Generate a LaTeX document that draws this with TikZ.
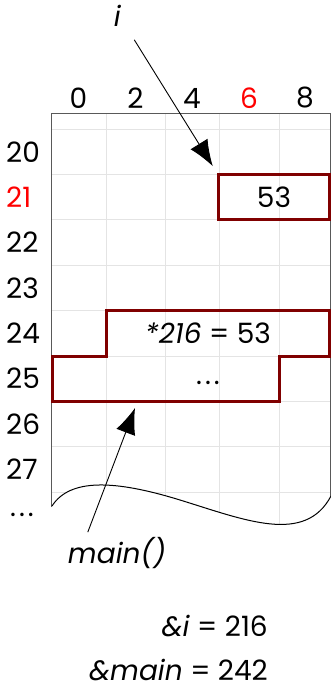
\documentclass[tikz,border=0pt]{standalone}
\usepackage{fontspec}
\setmainfont{Poppins}
\usetikzlibrary{arrows.meta}
\definecolor{framered}{RGB}{128,0,0}
\definecolor{gridgray}{RGB}{228,228,228}
\tikzstyle{txt} = [font=\fontsize{28}{34}\selectfont, inner sep=0pt]
\tikzstyle{cell} = [rectangle, draw=framered, line width=3pt]
\tikzstyle{arrow} = [line width=0.9pt, -{Latex[length=26pt,width=20pt]}]
\newcommand{\spdots}{.\kern3pt.\kern3pt.}

\begin{document}
\begin{tikzpicture}[x=1pt, y=-1pt]
\useasboundingbox (0,0) rectangle (331,690);

% --------- Memory grid ----------
\begin{scope}
\clip (51,114) -- (51,506) .. controls (70,478) and (115,480) .. (180,500) .. controls (245,520) and (305,545) .. (331,496) -- (331,114) -- cycle;
\foreach \y in {129,174.4,219.8,265.2,310.6,356,401.4,446.8,492.2,537.6}
  \draw[gridgray, line width=1pt] (51,\y) -- (331,\y);
\foreach \x in {106,165,219,279}
  \draw[gridgray, line width=1pt] (\x,114) -- (\x,560);
\end{scope}
\draw[gray!70!black, line width=1pt] (51,507) -- (51,114) -- (330.5,114) -- (330.5,496);
\draw[line width=1pt] (52,506) .. controls (70,478) and (115,480) .. (180,500) .. controls (245,520) and (305,545) .. (331,496);

% --------- Column and row numbers ----------
\foreach \x/\t/\c in {78.5/0/black, 135.5/2/black, 192/4/black, 249/6/red, 305/8/black}
  \node[txt, text=\c] (COL\t) at (\x,98) {\t};
\foreach \y/\t/\c in {151.7/20/black, 197.1/21/red, 242.5/22/black, 287.9/23/black, 333.3/24/black, 378.7/25/black, 424.1/26/black, 469.5/27/black}
  \node[txt, text=\c, anchor=west] (ROW\t) at (6,\y) {\t};
\node[txt, anchor=base] (ROWdots) at (22,516) {\spdots};

% --------- Variable i ----------
\node[txt, cell, minimum width=111pt, minimum height=45.5pt] (VARi) at (274,197.2) {53};
\node[txt] (Ilabel) at (117.5,16) {\textit{i}};
\draw [arrow, shorten >=8pt] ([shift={(13,13)}]Ilabel.south east) -- (VARi.north west);

% --------- Frame of main() ----------
\draw[cell] (106,310.6) -- (329.5,310.6) -- (329.5,356) -- (279.5,356) -- (279.5,401.4) -- (52.5,401.4) -- (52.5,356) -- (106,356) -- cycle;
\node[txt] (DEREF) at (208,333) {\textit{*216} = 53};
\node[txt, anchor=base] (MAINdots) at (208,384) {\spdots};
\node[txt] (MAINlabel) at (117,553) {\textit{main()}};
\coordinate (MAINend) at (135,408);
\draw [arrow] ([shift={(20,-5)}]MAINlabel.north west) -- (MAINend);

% --------- Addresses ----------
\node[txt, anchor=base east] (ADDRi) at (268,636) {\textit{\&i} = 216};
\node[txt, anchor=base east] (ADDRmain) at (268,680) {\textit{\&main} = 242};

\end{tikzpicture}
\end{document}
